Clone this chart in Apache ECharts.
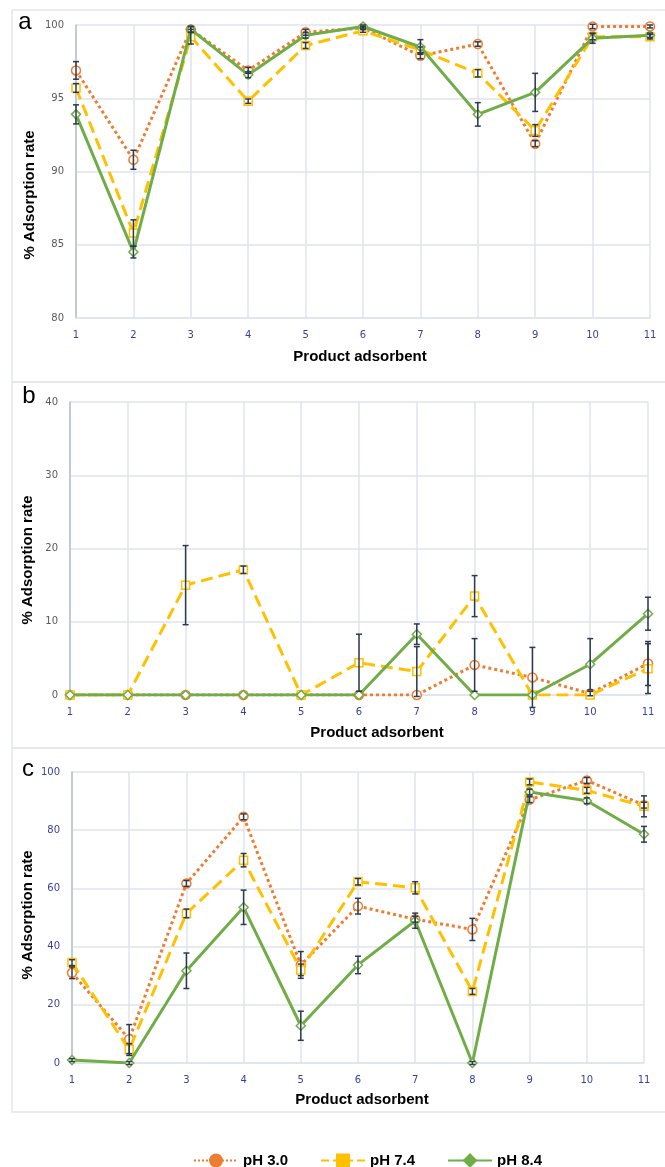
<!DOCTYPE html>
<html>
<head>
<meta charset="utf-8">
<script src="https://cdn.jsdelivr.net/npm/echarts@6/dist/echarts.min.js"></script>
<style>html,body{margin:0;padding:0;background:#fff}#c{width:665px;height:1167px}</style>
</head>
<body>
<div id="c"></div>
<script>
const categories = ['1','2','3','4','5','6','7','8','9','10','11'];
const seriesNames = ['pH 3.0','pH 7.4','pH 8.4'];

// Panel a
const a_pH30 = [96.9, 90.8, 99.7, 96.9, 99.5, 99.8, 97.9, 98.7, 91.9, 99.9, 99.9];
const a_pH74 = [95.7, 85.8, 99.2, 94.8, 98.6, 99.6, 98.3, 96.7, 92.8, 99.2, 99.2];
const a_pH84 = [93.9, 84.5, 99.7, 96.6, 99.3, 99.9, 98.5, 93.9, 95.4, 99.1, 99.3];
const a_err30 = [0.6, 0.65, 0.2, 0.2, 0.2, 0.1, 0.2, 0.15, 0.2, 0.15, 0.1];
const a_err74 = [0.3, 0.9, 0.5, 0.15, 0.2, 0.1, 0.2, 0.25, 0.4, 0.2, 0.15];
const a_err84 = [0.65, 0.4, 0.2, 0.2, 0.2, 0.1, 0.5, 0.8, 1.3, 0.35, 0.15];

// Panel b
const b_pH30 = [0, 0, 0, 0, 0, 0, 0, 4.1, 2.4, 0.2, 4.3];
const b_pH74 = [0, 0, 15.0, 17.1, 0, 4.4, 3.2, 13.5, 0, 0, 3.6];
const b_pH84 = [0, 0, 0, 0, 0, 0, 8.3, 0, 0, 4.2, 11.1];
const b_err30 = [0, 0, 0, 0, 0, 0, 0, 3.6, 4.1, 0.3, 3.0];
const b_err74 = [0, 0, 5.4, 0.5, 0, 3.9, 3.4, 2.8, 0, 0, 3.4];
const b_err84 = [0, 0, 0, 0, 0, 0, 1.4, 0, 0, 3.5, 2.25];

// Panel c
const c_pH30 = [31.0, 8.2, 61.7, 84.6, 33.7, 53.9, 49.4, 45.9, 90.5, 97.1, 88.6];
const c_pH74 = [34.5, 4.6, 51.4, 69.7, 32.0, 62.3, 60.2, 24.6, 96.6, 93.7, 88.2];
const c_pH84 = [1.0, 0, 31.7, 53.5, 12.8, 33.7, 48.9, 0, 93.1, 90.1, 78.6];
const c_err30 = [2.0, 5.0, 1.0, 1.0, 4.6, 2.7, 1.0, 3.8, 1.0, 1.0, 1.0];
const c_err74 = [1.0, 2.0, 1.5, 2.3, 2.0, 1.1, 2.1, 1.0, 1.0, 1.0, 3.6];
const c_err84 = [0.5, 0.5, 6.1, 5.9, 5.0, 3.0, 2.6, 0.5, 1.0, 1.0, 2.7];

const yRanges = [[80, 100, 5], [0, 40, 10], [0, 100, 20]];

const COL = ['#ED7D31', '#FFC000', '#70AD47'];
const SYM = ['circle', 'rect', 'diamond'];
const LTYPE = ['dotted', 'dashed', 'solid'];
const ERRC = '#2d3a4f';
const GRIDC = '#dfe4ec';
const XLAB = '#3b3f9a';

const panels = [
  {vals: [a_pH30, a_pH74, a_pH84], errs: [a_err30, a_err74, a_err84], grid: {left: 76, right: 15, top: 25, height: 293}, ylab: '#5a5a5a'},
  {vals: [b_pH30, b_pH74, b_pH84], errs: [b_err30, b_err74, b_err84], grid: {left: 70, right: 17, top: 402, height: 293}, ylab: '#5a5a5a'},
  {vals: [c_pH30, c_pH74, c_pH84], errs: [c_err30, c_err74, c_err84], grid: {left: 72, right: 21, top: 772, height: 291}, ylab: XLAB}
];

const grids = [], xAxes = [], yAxes = [], series = [];
panels.forEach((p, pi) => {
  grids.push(p.grid);
  xAxes.push({
    type: 'category', gridIndex: pi, data: categories, boundaryGap: false,
    axisLine: {lineStyle: {color: GRIDC, width: 1.5}}, axisTick: {show: false},
    axisLabel: {color: XLAB, fontSize: 10, fontFamily: 'DejaVu Sans', margin: 12},
    splitLine: {show: true, lineStyle: {color: GRIDC, width: 1.5}}
  });
  yAxes.push({
    type: 'value', gridIndex: pi, min: yRanges[pi][0], max: yRanges[pi][1], interval: yRanges[pi][2],
    axisLine: {show: true, lineStyle: {color: '#b5c0ce', width: 1.5}}, axisTick: {show: false},
    axisLabel: {color: p.ylab, fontSize: 10, fontFamily: 'DejaVu Sans', margin: 12},
    splitLine: {show: true, lineStyle: {color: GRIDC, width: 1.5}}
  });
  p.vals.forEach((v, si) => {
    series.push({
      type: 'line', name: seriesNames[si], xAxisIndex: pi, yAxisIndex: pi,
      data: v, symbol: SYM[si], symbolSize: si === 1 ? 8 : 9,
      lineStyle: {color: COL[si], width: 3, type: LTYPE[si]},
      itemStyle: {color: '#ffffff', borderColor: COL[si], borderWidth: 1.5},
      z: 3 + si, animation: false
    });
  });
  p.vals.forEach((v, si) => {
    const errData = v.map((y, i) => [i, y - p.errs[si][i], y + p.errs[si][i]]);
    series.push({
      type: 'custom', xAxisIndex: pi, yAxisIndex: pi, data: errData, z: 10, silent: true,
      animation: false,
      renderItem: function (params, api) {
        if (api.value(2) - api.value(1) <= 0) return null;
        const lo = api.coord([api.value(0), api.value(1)]);
        const hi = api.coord([api.value(0), api.value(2)]);
        const w = 3;
        const st = {stroke: ERRC, lineWidth: 1.5};
        return {type: 'group', children: [
          {type: 'line', shape: {x1: lo[0], y1: lo[1], x2: hi[0], y2: hi[1]}, style: st},
          {type: 'line', shape: {x1: lo[0] - w, y1: lo[1], x2: lo[0] + w, y2: lo[1]}, style: st},
          {type: 'line', shape: {x1: hi[0] - w, y1: hi[1], x2: hi[0] + w, y2: hi[1]}, style: st}
        ]};
      }
    });
  });
});

const boxStroke = '#e3e7ec';
const titleFont = 'bold 15px "Liberation Sans", Arial, sans-serif';
const graphics = [
  {type: 'rect', shape: {x: 12, y: 10, width: 670, height: 372}, style: {fill: 'none', stroke: boxStroke, lineWidth: 1.5}, silent: true},
  {type: 'rect', shape: {x: 12, y: 382, width: 670, height: 366}, style: {fill: 'none', stroke: boxStroke, lineWidth: 1.5}, silent: true},
  {type: 'rect', shape: {x: 12, y: 748, width: 670, height: 364}, style: {fill: 'none', stroke: boxStroke, lineWidth: 1.5}, silent: true},
  {type: 'text', x: 25, y: 22, style: {text: 'a', font: '24px "Liberation Sans", Arial, sans-serif', fill: '#000', textAlign: 'center', textVerticalAlign: 'middle'}},
  {type: 'text', x: 29, y: 396, style: {text: 'b', font: '24px "Liberation Sans", Arial, sans-serif', fill: '#000', textAlign: 'center', textVerticalAlign: 'middle'}},
  {type: 'text', x: 28, y: 769, style: {text: 'c', font: '24px "Liberation Sans", Arial, sans-serif', fill: '#000', textAlign: 'center', textVerticalAlign: 'middle'}},
  {type: 'text', x: 30, y: 195, rotation: Math.PI / 2, style: {text: '% Adsorption rate', font: titleFont, fill: '#000', textAlign: 'center', textVerticalAlign: 'middle'}},
  {type: 'text', x: 28, y: 560, rotation: Math.PI / 2, style: {text: '% Adsorption rate', font: titleFont, fill: '#000', textAlign: 'center', textVerticalAlign: 'middle'}},
  {type: 'text', x: 28, y: 915, rotation: Math.PI / 2, style: {text: '% Adsorption rate', font: titleFont, fill: '#000', textAlign: 'center', textVerticalAlign: 'middle'}},
  {type: 'text', x: 360, y: 357, style: {text: 'Product adsorbent', font: titleFont, fill: '#000', textAlign: 'center', textVerticalAlign: 'middle'}},
  {type: 'text', x: 377, y: 733, style: {text: 'Product adsorbent', font: titleFont, fill: '#000', textAlign: 'center', textVerticalAlign: 'middle'}},
  {type: 'text', x: 362, y: 1100, style: {text: 'Product adsorbent', font: titleFont, fill: '#000', textAlign: 'center', textVerticalAlign: 'middle'}}
];

const chart = echarts.init(document.getElementById('c'), null, {renderer: 'canvas'});
chart.setOption({
  animation: false,
  backgroundColor: '#ffffff',
  grid: grids, xAxis: xAxes, yAxis: yAxes, series: series,
  graphic: graphics,
  legend: {
    left: 188, top: 1148, itemWidth: 44, itemHeight: 15, itemGap: 32,
    textStyle: {fontFamily: '"Liberation Sans", Arial, sans-serif', fontWeight: 'bold', fontSize: 15, color: '#000'},
    data: seriesNames.map((n, i) => ({name: n, itemStyle: {color: COL[i], borderColor: COL[i]}}))
  }
});
</script>
</body>
</html>
